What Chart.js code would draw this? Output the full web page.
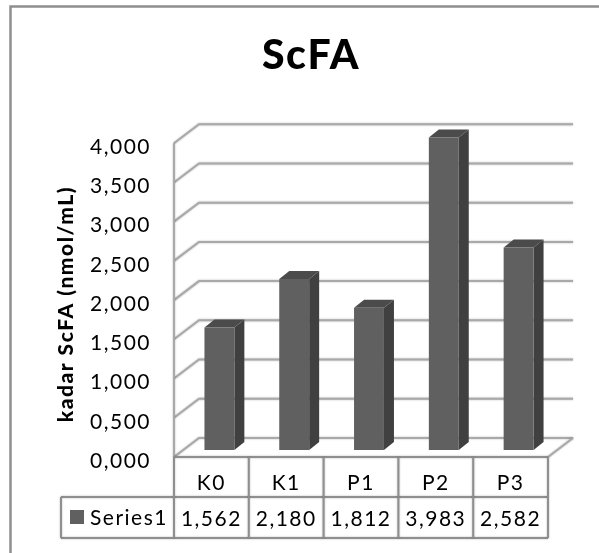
<!DOCTYPE html>
<html><head><meta charset="utf-8">
<style>html,body{margin:0;padding:0;background:#fff}#w{position:relative;width:599px;height:553px}canvas{display:block}</style>
<script src="https://cdn.jsdelivr.net/npm/chart.js@4"></script></head>
<body><div id="w"><canvas id="c" width="599" height="553"></canvas></div>
<script>
const categories = ['K0','K1','P1','P2','P3'];
const seriesName = 'Series1';
const seriesValues = [1.562,2.180,1.812,3.983,2.582];
const chartTitle = 'ScFA';
const axisTitle = 'kadar ScFA (nmol/mL)';
const fontFamily = 'Lato, "Open Sans", sans-serif';
const fmt = v => Number(v).toFixed(3).replace('.',',');
const wallDx = 25, wallDy = -19;   // depth of the 3D walls
const barDx = 8, barDy = -7;       // where bars stand on the floor
const depthDx = 10, depthDy = -8;  // bar depth
const gridCol = '#a9a9a9', frameCol = '#8e8e8e', tableCol = '#8f8f8f';
const front = '#606060', side = '#404040', topc = '#4b4b4b';

function line(ctx, pts, col, w){
  ctx.strokeStyle = col; ctx.lineWidth = w; ctx.beginPath();
  pts.forEach((p,i)=> i ? ctx.lineTo(p[0],p[1]) : ctx.moveTo(p[0],p[1]));
  ctx.stroke();
}
function poly(ctx, pts, col){
  ctx.fillStyle = col; ctx.beginPath();
  pts.forEach((p,i)=> i ? ctx.lineTo(p[0],p[1]) : ctx.moveTo(p[0],p[1]));
  ctx.closePath(); ctx.fill();
}
const deco = {
  id:'deco',
  afterLayout(chart){
    // centre the title over the plot + table block, as in the reference
    chart.titleBlock.left = 24; chart.titleBlock.right = 598;
    // axis title sits slightly below the plot centre
    chart.scales.y.top += 8;
  },
  beforeDraw(chart){ chart.ctx.letterSpacing = '1.5px'; },
  beforeDatasetsDraw(chart){
    const ctx = chart.ctx, a = chart.chartArea, y = chart.scales.y;
    ctx.save();
    line(ctx,[[10.5,553],[10.5,6.5],[599,6.5]],frameCol,2.5);
    // walls
    ctx.shadowColor='rgba(0,0,0,0.3)'; ctx.shadowBlur=2;
    y.ticks.forEach(t=>{
      const py = y.getPixelForValue(t.value);
      line(ctx,[[a.left,py],[a.left+wallDx,py+wallDy],[a.right+wallDx,py+wallDy]],gridCol,2);
    });
    line(ctx,[[a.left,a.top],[a.left,a.bottom]],gridCol,2);
    line(ctx,[[a.right,a.bottom],[a.right+wallDx,a.bottom+wallDy]],gridCol,2);
    // table
    const ys = a.bottom, yh = 497, yb = 538, lx = 61;
    line(ctx,[[a.left,ys],[a.right,ys]],tableCol,2);
    line(ctx,[[lx,yh],[a.right,yh]],tableCol,2);
    line(ctx,[[lx,yb],[a.right,yb]],tableCol,2);
    line(ctx,[[lx,yh],[lx,yb]],tableCol,2);
    categories.forEach((_,i)=>{
      const bx = a.left + (a.right-a.left)*i/categories.length;
      line(ctx,[[bx,ys],[bx,yb]],tableCol,2);
    });
    line(ctx,[[a.right,ys],[a.right,yb]],tableCol,2);
    ctx.shadowBlur=0; ctx.shadowColor='transparent';
    // legend key in table
    ctx.fillStyle = front; ctx.fillRect(70,510,14,14);
    ctx.fillStyle = '#000'; ctx.font = '21px '+fontFamily;
    ctx.textAlign='left'; ctx.textBaseline='middle';
    ctx.fillText(seriesName,90,518.5);
    ctx.restore();
    // bars stand mid-depth on the floor
    ctx.save();
    ctx.translate(barDx,barDy);
    chart.getDatasetMeta(0).data.forEach(b=>{
      const l=b.x-b.width/2, r=b.x+b.width/2, t=b.y, bt=b.base;
      poly(ctx,[[r,t],[r+depthDx,t+depthDy],[r+depthDx,bt+depthDy],[r,bt]],side);
      poly(ctx,[[l,t],[l+depthDx,t+depthDy],[r+depthDx,t+depthDy],[r,t]],topc);
    });
  },
  afterDatasetsDraw(chart){ chart.ctx.restore(); }
};
new Chart(document.getElementById('c'),{
  type:'bar',
  data:{labels:categories,datasets:[{label:seriesName,data:seriesValues,backgroundColor:front,borderWidth:0,barPercentage:0.4,categoryPercentage:1,clip:false}]},
  plugins:[deco],
  options:{
    responsive:false,animation:false,
    layout:{padding:{left:0,right:51,top:0,bottom:0}},
    plugins:{legend:{display:false},tooltip:{enabled:false},
      title:{display:true,text:chartTitle,color:'#000',font:{family:fontFamily,size:41,weight:'900',lineHeight:1.2},padding:{top:31,bottom:63}}},
    scales:{
      x:{grid:{display:false,drawTicks:false},border:{display:false},
        afterFit(s){s.height=96;},
        ticks:{color:'#000',padding:8,maxRotation:0,autoSkip:false,font:{family:fontFamily,size:21,lineHeight:1.714},
          callback(v,i){return [categories[i],fmt(seriesValues[i])];}}},
      y:{min:0,max:4,grid:{display:false,drawTicks:false},border:{display:false},
        afterFit(s){s.width=174;},
        ticks:{stepSize:0.5,color:'#000',padding:23,labelOffset:4,font:{family:fontFamily,size:21},callback:v=>fmt(v)},
        title:{display:true,text:axisTitle,color:'#000',font:{family:fontFamily,size:21,weight:'900'},padding:{top:54,bottom:0}}}
    }
  }
});
</script></body></html>
